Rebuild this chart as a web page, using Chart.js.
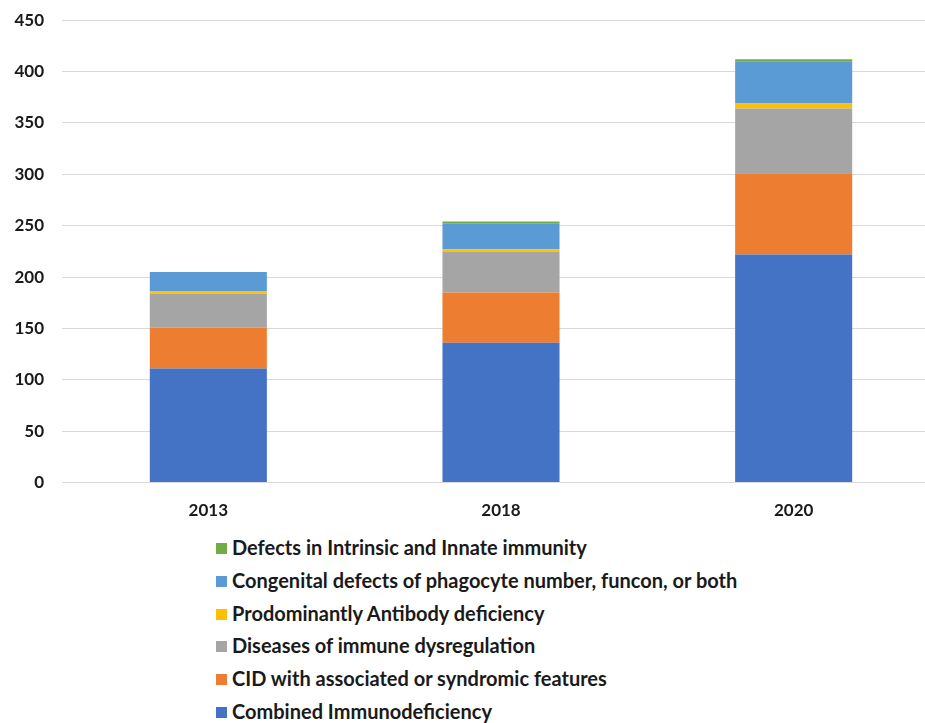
<!DOCTYPE html>
<html>
<head>
<meta charset="utf-8">
<script src="https://cdn.jsdelivr.net/npm/chart.js@4/dist/chart.umd.min.js"></script>
<style>
  html, body { margin: 0; padding: 0; background: #fff; overflow: hidden; width: 925px; height: 723px; }
  #wrap { position: absolute; left: 0; top: -8px; width: 940px; height: 539px; }
  #legend { position: absolute; left: 216px; top: 535px; font-family: Lato, "Liberation Sans", sans-serif; font-weight: bold; font-size: 20px; color: #1a1a1a; }
  #legend div { height: 32.8px; line-height: 24px; white-space: nowrap; }
  #legend span.sw { display: inline-block; width: 11px; height: 11px; margin-right: 5px; vertical-align: 1px; }
</style>
</head>
<body>
<div id="wrap"><canvas id="c"></canvas></div>
<div id="legend"></div>
<script>
const years = ['2013', '2018', '2020'];

const combinedImmuno = [111, 136, 222];
const cidSyndromic = [40, 49, 79];
const immuneDysregulation = [33, 40, 63];
const antibodyDeficiency = [2, 2, 5];
const phagocyteDefects = [19, 25, 41];
const intrinsicInnate = [0, 2, 2];

const seriesNames = [
  'Combined Immunodeficiency',
  'CID with associated or syndromic features',
  'Diseases of immune dysregulation',
  'Prodominantly Antibody deficiency',
  'Congenital defects of phagocyte number, funcon, or both',
  'Defects in Intrinsic and Innate immunity'
];
const seriesValues = [combinedImmuno, cidSyndromic, immuneDysregulation, antibodyDeficiency, phagocyteDefects, intrinsicInnate];
const seriesColors = ['#4472C4', '#ED7D31', '#A5A5A5', '#FFC000', '#5B9BD5', '#70AD47'];

const yTicks = [0, 50, 100, 150, 200, 250, 300, 350, 400, 450];

const datasets = seriesNames.map((name, i) => ({
  label: name,
  data: seriesValues[i],
  backgroundColor: seriesColors[i],
  borderWidth: 0,
  categoryPercentage: 1,
  barPercentage: 0.4
}));

const tickFont = { family: 'Lato, "Liberation Sans", sans-serif', weight: 'bold', size: 17 };

const chart = new Chart(document.getElementById('c'), {
  type: 'bar',
  data: { labels: years, datasets },
  options: {
    responsive: true,
    maintainAspectRatio: false,
    animation: false,
    layout: { padding: { top: 3, right: 0, left: 0, bottom: 0 } },
    plugins: { legend: { display: false }, tooltip: { enabled: false } },
    scales: {
      x: {
        stacked: true,
        grid: { display: false },
        border: { display: false },
        ticks: { color: '#1a1a1a', font: tickFont, padding: 10 }
      },
      y: {
        stacked: true,
        min: 0,
        max: 450,
        afterBuildTicks: (axis) => { axis.ticks = yTicks.map(v => ({ value: v })); },
        afterFit: (axis) => { axis.width = 62; },
        grid: { color: '#d9d9d9', lineWidth: 1, drawTicks: false },
        border: { display: false },
        ticks: { color: '#1a1a1a', font: tickFont, padding: 18 }
      }
    }
  }
});

// Legend: listed top to bottom in reverse stacking order
const legend = document.getElementById('legend');
chart.data.datasets.slice().reverse().forEach(ds => {
  const row = document.createElement('div');
  const sw = document.createElement('span');
  sw.className = 'sw';
  sw.style.background = ds.backgroundColor;
  row.appendChild(sw);
  row.appendChild(document.createTextNode(ds.label));
  legend.appendChild(row);
});
</script>
</body>
</html>
